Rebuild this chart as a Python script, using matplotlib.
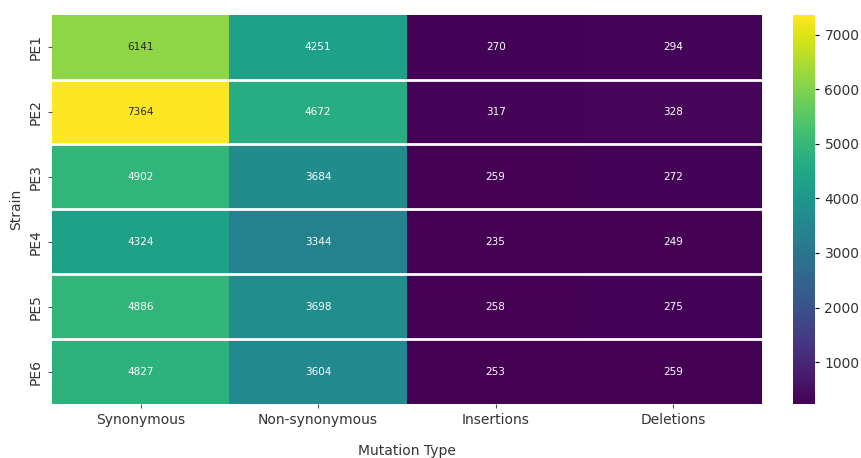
import numpy as np
import matplotlib
matplotlib.use('Agg')
import matplotlib.pyplot as plt

strains = ['PE1', 'PE2', 'PE3', 'PE4', 'PE5', 'PE6']
mutation_types = ['Synonymous', 'Non-synonymous', 'Insertions', 'Deletions']

synonymous = [6141, 7364, 4902, 4324, 4886, 4827]
non_synonymous = [4251, 4672, 3684, 3344, 3698, 3604]
insertions = [270, 317, 259, 235, 258, 253]
deletions = [294, 328, 272, 249, 275, 259]

data = np.array([synonymous, non_synonymous, insertions, deletions]).T

fig = plt.figure(figsize=(8.62, 4.58), dpi=100)
ax = fig.add_axes([0.060, 0.118, 0.824, 0.850])
cax = fig.add_axes([0.920, 0.118, 0.026, 0.850])

cmap = plt.get_cmap('viridis')
vmin, vmax = data.min(), data.max()
mesh = ax.pcolormesh(data, cmap=cmap, vmin=vmin, vmax=vmax)
ax.set_xlim(0, data.shape[1])
ax.set_ylim(data.shape[0], 0)

# white separators between rows
for i in range(1, data.shape[0]):
    ax.axhline(i, color='white', lw=2)

for i in range(data.shape[0]):
    for j in range(data.shape[1]):
        r, g, b, _ = cmap((data[i, j] - vmin) / (vmax - vmin))
        lum = 0.2126 * r + 0.7152 * g + 0.0722 * b
        ax.text(j + 0.5, i + 0.5, str(data[i, j]), ha='center', va='center',
                fontsize=7.5, color='#262626' if lum > 0.68 else 'white')

ax.set_xticks(np.arange(data.shape[1]) + 0.5)
ax.set_xticklabels(mutation_types, fontsize=10, color='#333333')
ax.set_yticks(np.arange(data.shape[0]) + 0.5)
ax.set_yticklabels(strains, rotation=90, va='center', fontsize=10, color='#333333')
ax.tick_params(length=3, color='#555555')
for s in ax.spines.values():
    s.set_visible(False)
ax.set_xlabel('Mutation Type', fontsize=10, color='#333333', labelpad=12)
ax.set_ylabel('Strain', fontsize=10, color='#333333', labelpad=4)

cb = fig.colorbar(mesh, cax=cax)
cb.set_ticks([1000, 2000, 3000, 4000, 5000, 6000, 7000])
cb.ax.tick_params(labelsize=10, labelcolor='#333333', length=3)
cb.outline.set_visible(False)

fig.savefig('out.png', dpi=100)
